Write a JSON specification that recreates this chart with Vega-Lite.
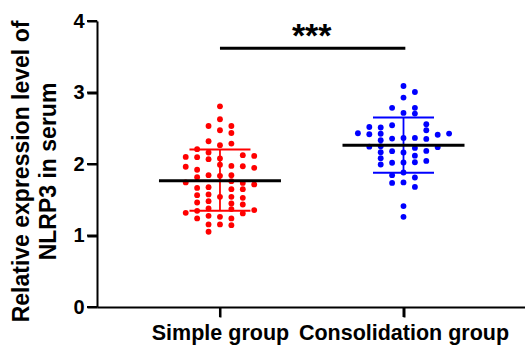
{
  "$schema": "https://vega.github.io/schema/vega-lite/v6.json",
  "width": 428,
  "height": 286,
  "autosize": {"type": "none"},
  "padding": {"left": 97, "top": 21, "right": 0, "bottom": 40},
  "background": "white",
  "config": {
    "view": {"stroke": null},
    "font": "Liberation Sans",
    "axis": {
      "grid": false,
      "domainColor": "black",
      "tickColor": "black",
      "labelColor": "black",
      "titleColor": "black",
      "domainWidth": 2,
      "tickWidth": 2,
      "tickSize": 10,
      "labelFont": "Liberation Sans",
      "titleFont": "Liberation Sans",
      "labelFontWeight": "bold",
      "titleFontWeight": "bold"
    }
  },
  "datasets": {
    "pts": [
      {"group": "Simple group", "x": 0.8134, "v": 2.099},
      {"group": "Simple group", "x": 0.8134, "v": 1.962},
      {"group": "Simple group", "x": 0.8134, "v": 1.742},
      {"group": "Simple group", "x": 0.8134, "v": 1.317},
      {"group": "Simple group", "x": 0.8756, "v": 2.207},
      {"group": "Simple group", "x": 0.8756, "v": 2.095},
      {"group": "Simple group", "x": 0.8756, "v": 1.920},
      {"group": "Simple group", "x": 0.8756, "v": 1.816},
      {"group": "Simple group", "x": 0.8756, "v": 1.666},
      {"group": "Simple group", "x": 0.8756, "v": 1.564},
      {"group": "Simple group", "x": 0.8756, "v": 1.462},
      {"group": "Simple group", "x": 0.8756, "v": 1.345},
      {"group": "Simple group", "x": 0.8756, "v": 1.239},
      {"group": "Simple group", "x": 0.9378, "v": 2.532},
      {"group": "Simple group", "x": 0.9378, "v": 2.318},
      {"group": "Simple group", "x": 0.9378, "v": 2.161},
      {"group": "Simple group", "x": 0.9378, "v": 2.067},
      {"group": "Simple group", "x": 0.9378, "v": 1.844},
      {"group": "Simple group", "x": 0.9378, "v": 1.676},
      {"group": "Simple group", "x": 0.9378, "v": 1.574},
      {"group": "Simple group", "x": 0.9378, "v": 1.480},
      {"group": "Simple group", "x": 0.9378, "v": 1.378},
      {"group": "Simple group", "x": 0.9378, "v": 1.275},
      {"group": "Simple group", "x": 0.9378, "v": 1.155},
      {"group": "Simple group", "x": 0.9378, "v": 1.052},
      {"group": "Simple group", "x": 1.0, "v": 2.807},
      {"group": "Simple group", "x": 1.0, "v": 2.626},
      {"group": "Simple group", "x": 1.0, "v": 2.472},
      {"group": "Simple group", "x": 1.0, "v": 2.263},
      {"group": "Simple group", "x": 1.0, "v": 2.077},
      {"group": "Simple group", "x": 1.0, "v": 1.990},
      {"group": "Simple group", "x": 1.0, "v": 1.834},
      {"group": "Simple group", "x": 1.0, "v": 1.541},
      {"group": "Simple group", "x": 1.0, "v": 1.261},
      {"group": "Simple group", "x": 1.0, "v": 1.155},
      {"group": "Simple group", "x": 1.0622, "v": 2.532},
      {"group": "Simple group", "x": 1.0622, "v": 2.434},
      {"group": "Simple group", "x": 1.0622, "v": 2.286},
      {"group": "Simple group", "x": 1.0622, "v": 1.973},
      {"group": "Simple group", "x": 1.0622, "v": 1.844},
      {"group": "Simple group", "x": 1.0622, "v": 1.760},
      {"group": "Simple group", "x": 1.0622, "v": 1.648},
      {"group": "Simple group", "x": 1.0622, "v": 1.541},
      {"group": "Simple group", "x": 1.0622, "v": 1.448},
      {"group": "Simple group", "x": 1.0622, "v": 1.369},
      {"group": "Simple group", "x": 1.0622, "v": 1.239},
      {"group": "Simple group", "x": 1.0622, "v": 1.145},
      {"group": "Simple group", "x": 1.1244, "v": 2.123},
      {"group": "Simple group", "x": 1.1244, "v": 1.969},
      {"group": "Simple group", "x": 1.1244, "v": 1.736},
      {"group": "Simple group", "x": 1.1244, "v": 1.648},
      {"group": "Simple group", "x": 1.1244, "v": 1.527},
      {"group": "Simple group", "x": 1.1244, "v": 1.434},
      {"group": "Simple group", "x": 1.1244, "v": 1.309},
      {"group": "Simple group", "x": 1.1866, "v": 2.113},
      {"group": "Simple group", "x": 1.1866, "v": 1.946},
      {"group": "Simple group", "x": 1.1866, "v": 1.714},
      {"group": "Simple group", "x": 1.1866, "v": 1.355},
      {"group": "Consolidation group", "x": 1.7516, "v": 2.430},
      {"group": "Consolidation group", "x": 1.8137, "v": 2.518},
      {"group": "Consolidation group", "x": 1.8137, "v": 2.416},
      {"group": "Consolidation group", "x": 1.8137, "v": 2.242},
      {"group": "Consolidation group", "x": 1.8758, "v": 2.510},
      {"group": "Consolidation group", "x": 1.8758, "v": 2.423},
      {"group": "Consolidation group", "x": 1.8758, "v": 2.332},
      {"group": "Consolidation group", "x": 1.8758, "v": 2.249},
      {"group": "Consolidation group", "x": 1.8758, "v": 2.165},
      {"group": "Consolidation group", "x": 1.8758, "v": 2.081},
      {"group": "Consolidation group", "x": 1.8758, "v": 1.993},
      {"group": "Consolidation group", "x": 1.9379, "v": 2.786},
      {"group": "Consolidation group", "x": 1.9379, "v": 2.542},
      {"group": "Consolidation group", "x": 1.9379, "v": 2.356},
      {"group": "Consolidation group", "x": 1.9379, "v": 2.179},
      {"group": "Consolidation group", "x": 1.9379, "v": 2.018},
      {"group": "Consolidation group", "x": 1.9379, "v": 1.844},
      {"group": "Consolidation group", "x": 1.9379, "v": 1.736},
      {"group": "Consolidation group", "x": 2.0, "v": 3.091},
      {"group": "Consolidation group", "x": 2.0, "v": 2.929},
      {"group": "Consolidation group", "x": 2.0, "v": 2.714},
      {"group": "Consolidation group", "x": 2.0, "v": 2.365},
      {"group": "Consolidation group", "x": 2.0, "v": 2.161},
      {"group": "Consolidation group", "x": 2.0, "v": 2.021},
      {"group": "Consolidation group", "x": 2.0, "v": 1.881},
      {"group": "Consolidation group", "x": 2.0, "v": 1.742},
      {"group": "Consolidation group", "x": 2.0, "v": 1.411},
      {"group": "Consolidation group", "x": 2.0, "v": 1.261},
      {"group": "Consolidation group", "x": 2.0621, "v": 3.007},
      {"group": "Consolidation group", "x": 2.0621, "v": 2.786},
      {"group": "Consolidation group", "x": 2.0621, "v": 2.705},
      {"group": "Consolidation group", "x": 2.0621, "v": 2.365},
      {"group": "Consolidation group", "x": 2.0621, "v": 2.225},
      {"group": "Consolidation group", "x": 2.0621, "v": 2.116},
      {"group": "Consolidation group", "x": 2.0621, "v": 2.025},
      {"group": "Consolidation group", "x": 2.0621, "v": 1.811},
      {"group": "Consolidation group", "x": 2.0621, "v": 1.680},
      {"group": "Consolidation group", "x": 2.1242, "v": 2.556},
      {"group": "Consolidation group", "x": 2.1242, "v": 2.472},
      {"group": "Consolidation group", "x": 2.1242, "v": 2.351},
      {"group": "Consolidation group", "x": 2.1242, "v": 2.183},
      {"group": "Consolidation group", "x": 2.1242, "v": 2.043},
      {"group": "Consolidation group", "x": 2.1863, "v": 2.409},
      {"group": "Consolidation group", "x": 2.1863, "v": 2.235},
      {"group": "Consolidation group", "x": 2.2484, "v": 2.426}
    ],
    "stats": [
      {"group": "Simple group", "center": 1, "mean": 1.764, "lo": 1.345, "hi": 2.203},
      {"group": "Consolidation group", "center": 2, "mean": 2.263, "lo": 1.876, "hi": 2.649}
    ],
    "yticks": [{"t": 0}, {"t": 1}, {"t": 2}, {"t": 3}, {"t": 4}],
    "xticks": [{"c": 1}, {"c": 2}]
  },
  "layer": [
    {
      "data": {"name": "pts"},
      "mark": {"type": "circle", "size": 34, "opacity": 1},
      "encoding": {
        "x": {
          "field": "x", "type": "quantitative",
          "scale": {"domain": [0.33, 2.662], "nice": false, "zero": false},
          "axis": {
            "values": [1, 2],
            "labelExpr": "datum.value == 1 ? 'Simple group' : 'Consolidation group'",
            "labelFontSize": 21.5,
            "labelPadding": 5,
            "labelLimit": 400,
            "labelOverlap": false,
            "labelFlush": false,
            "labelBound": false,
            "title": null
          }
        },
        "y": {
          "field": "v", "type": "quantitative",
          "scale": {"domain": [0, 4], "nice": false, "zero": true},
          "axis": {
            "values": [0, 1, 2, 3, 4],
            "format": "d",
            "labelFontSize": 20,
            "labelPadding": 3,
            "title": ["Relative expression level of", "NLRP3 in serum"],
            "titleFontSize": 23,
            "titleLineHeight": 27,
            "titleAngle": -90,
            "titleX": -87,
            "titleY": 150,
            "titleBaseline": "top",
            "titleAlign": "center"
          }
        },
        "color": {
          "field": "group", "type": "nominal",
          "scale": {"domain": ["Simple group", "Consolidation group"], "range": ["#ff0000", "#0000ff"]},
          "legend": null
        }
      }
    },
    {
      "data": {"name": "yticks"},
      "mark": {"type": "rule", "strokeWidth": 2, "color": "black", "x2Offset": -10, "clip": false},
      "encoding": {
        "x": {"datum": 0.33, "type": "quantitative"},
        "x2": {"datum": 0.33},
        "y": {"field": "t", "type": "quantitative"}
      }
    },
    {
      "data": {"name": "xticks"},
      "mark": {"type": "rule", "strokeWidth": 2, "color": "black", "y2Offset": 10, "clip": false},
      "encoding": {
        "x": {"field": "c", "type": "quantitative"},
        "y": {"datum": 0, "type": "quantitative"},
        "y2": {"datum": 0}
      }
    },
    {
      "data": {"name": "stats"},
      "mark": {"type": "rule", "strokeWidth": 1.8},
      "encoding": {
        "x": {"field": "center", "type": "quantitative"},
        "y": {"field": "lo", "type": "quantitative"},
        "y2": {"field": "hi"},
        "color": {"field": "group", "type": "nominal", "legend": null}
      }
    },
    {
      "data": {"name": "stats"},
      "mark": {"type": "tick", "orient": "horizontal", "size": 61, "thickness": 2, "opacity": 1},
      "encoding": {
        "x": {"field": "center", "type": "quantitative"},
        "y": {"field": "lo", "type": "quantitative"},
        "color": {"field": "group", "type": "nominal", "legend": null}
      }
    },
    {
      "data": {"name": "stats"},
      "mark": {"type": "tick", "orient": "horizontal", "size": 61, "thickness": 2, "opacity": 1},
      "encoding": {
        "x": {"field": "center", "type": "quantitative"},
        "y": {"field": "hi", "type": "quantitative"},
        "color": {"field": "group", "type": "nominal", "legend": null}
      }
    },
    {
      "data": {"name": "stats"},
      "mark": {"type": "tick", "orient": "horizontal", "size": 122, "thickness": 3, "opacity": 1, "color": "black"},
      "encoding": {
        "x": {"field": "center", "type": "quantitative"},
        "y": {"field": "mean", "type": "quantitative"}
      }
    },
    {
      "data": {"values": [{}]},
      "mark": {"type": "rule", "strokeWidth": 3, "color": "black"},
      "encoding": {
        "x": {"datum": 1.0, "type": "quantitative"},
        "x2": {"datum": 2.01},
        "y": {"datum": 3.62, "type": "quantitative"}
      }
    },
    {
      "data": {"values": [{"label": "***"}]},
      "mark": {"type": "text", "fontSize": 34, "fontWeight": "bold", "color": "black", "baseline": "alphabetic", "align": "center", "font": "Liberation Sans"},
      "encoding": {
        "x": {"datum": 1.5, "type": "quantitative"},
        "y": {"datum": 3.63, "type": "quantitative"},
        "text": {"field": "label"}
      }
    }
  ]
}
